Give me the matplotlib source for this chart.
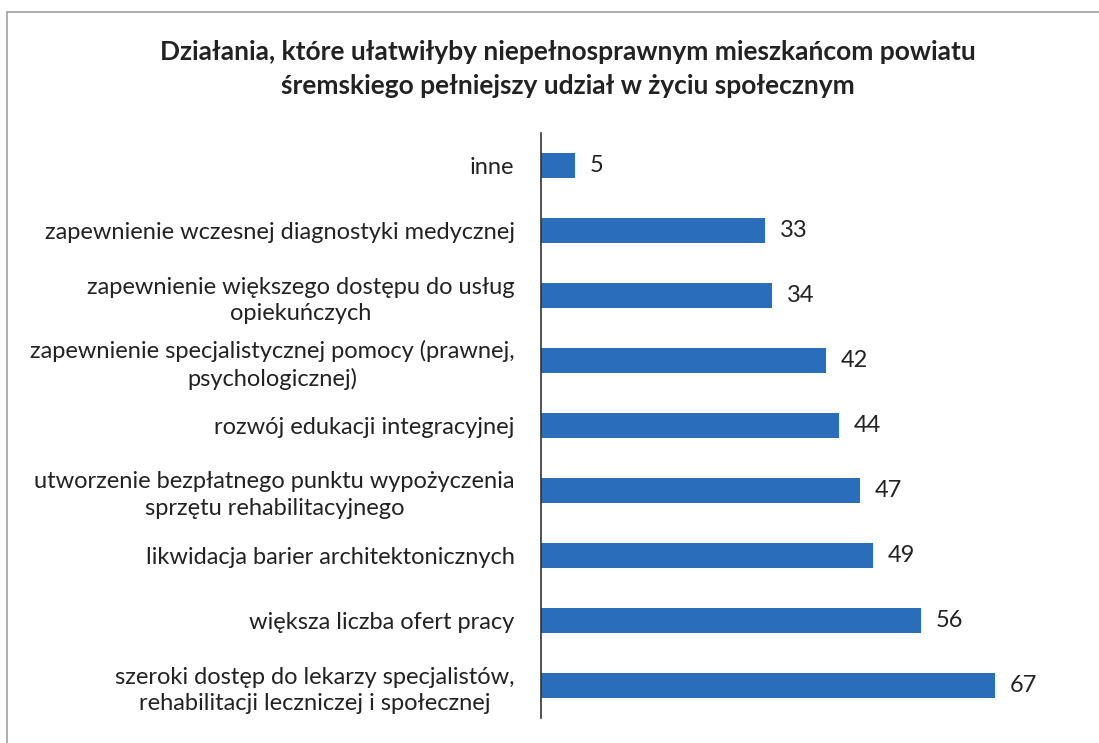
import matplotlib.pyplot as plt
from matplotlib.patches import Rectangle

plt.rcParams['font.family'] = ['Lato', 'DejaVu Sans']

title = ("Działania, które ułatwiłyby niepełnosprawnym mieszkańcom powiatu\n"
         "śremskiego pełniejszy udział w życiu społecznym")

categories = [
    "szeroki dostęp do lekarzy specjalistów,\nrehabilitacji leczniczej i społecznej",
    "większa liczba ofert pracy",
    "likwidacja barier architektonicznych",
    "utworzenie bezpłatnego punktu wypożyczenia\nsprzętu rehabilitacyjnego",
    "rozwój edukacji integracyjnej",
    "zapewnienie specjalistycznej pomocy (prawnej,\npsychologicznej)",
    "zapewnienie większego dostępu do usług\nopiekuńczych",
    "zapewnienie wczesnej diagnostyki medycznej",
    "inne",
]
values = [67, 56, 49, 47, 44, 42, 34, 33, 5]

W, H = 1099, 743
fig = plt.figure(figsize=(W / 100, H / 100), dpi=100)
fig.patch.set_facecolor('white')

# scanned frame around the chart
fig.add_artist(Rectangle((7 / W, -0.05), 1.2, 1 - 12 / H + 0.05,
                         transform=fig.transFigure, fill=False,
                         edgecolor='#a0a0a0', linewidth=1.2))

ax = fig.add_axes([541 / W, 25 / H, 534 / W, 585 / H])
pos = range(len(categories))
bars = ax.barh(pos, values, height=0.38, color='#2A6EBB')
ax.set_xlim(0, 534 / 6.78)
ax.set_ylim(-0.5, len(categories) - 0.5)

for b, v in zip(bars, values):
    ax.text(b.get_width() + 2.2, b.get_y() + b.get_height() / 2, str(v),
            va='center', ha='left', fontsize=17, color='#222222')

ax.set_yticks(list(pos))
ax.set_yticklabels(categories, fontsize=17, color='#222222')
for lbl in ax.get_yticklabels():
    lbl.set_multialignment('center')
    lbl.set_linespacing(1.3)
ax.tick_params(axis='y', length=0, pad=19)
ax.set_xticks([])
for s in ['top', 'right', 'bottom']:
    ax.spines[s].set_visible(False)
ax.spines['left'].set_color('#333333')
ax.spines['left'].set_linewidth(1.2)

fig.text(568 / W, 1 - 69 / H, title, ha='center', va='center',
         fontsize=19, fontweight='bold', color='#222222', linespacing=1.5)

fig.savefig('out.png', dpi=100)
